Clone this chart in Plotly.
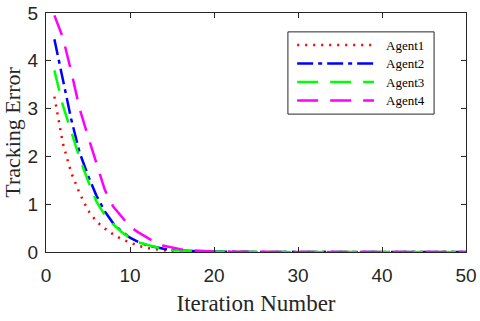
import plotly.graph_objects as go

# iteration index
iters = list(range(1, 51))

# tracking error of each agent
agent1 = [3.25, 2.28, 1.66, 1.23, 0.87, 0.64, 0.49, 0.37, 0.27, 0.2,
          0.13, 0.085, 0.055, 0.035, 0.024, 0.016, 0.011, 0.008, 0.005, 0.003,
          0.002, 0.001, 0.001, 0.0, 0.0, 0.0, 0.0, 0.0, 0.0, 0.0,
          0.0, 0.0, 0.0, 0.0, 0.0, 0.0, 0.0, 0.0, 0.0, 0.0,
          0.0, 0.0, 0.0, 0.0, 0.0, 0.0, 0.0, 0.0, 0.0, 0.0]
agent2 = [4.45, 3.6, 2.78, 2.08, 1.6, 1.18, 0.85, 0.6, 0.43, 0.3,
          0.21, 0.14, 0.1, 0.07, 0.045, 0.03, 0.02, 0.013, 0.009, 0.006,
          0.004, 0.002, 0.001, 0.0, 0.0, 0.0, 0.0, 0.0, 0.0, 0.0,
          0.0, 0.0, 0.0, 0.0, 0.0, 0.0, 0.0, 0.0, 0.0, 0.0,
          0.0, 0.0, 0.0, 0.0, 0.0, 0.0, 0.0, 0.0, 0.0, 0.0]
agent3 = [3.8, 3.07, 2.52, 1.96, 1.49, 1.06, 0.77, 0.58, 0.42, 0.29,
          0.2, 0.15, 0.11, 0.06, 0.035, 0.025, 0.017, 0.011, 0.007, 0.005,
          0.003, 0.002, 0.001, 0.0, 0.0, 0.0, 0.0, 0.0, 0.0, 0.0,
          0.0, 0.0, 0.0, 0.0, 0.0, 0.0, 0.0, 0.0, 0.0, 0.0,
          0.0, 0.0, 0.0, 0.0, 0.0, 0.0, 0.0, 0.0, 0.0, 0.0]
agent4 = [4.95, 4.49, 3.78, 3.0, 2.42, 1.88, 1.3, 0.95, 0.74, 0.53,
          0.41, 0.3, 0.2, 0.13, 0.09, 0.06, 0.035, 0.022, 0.014, 0.009,
          0.006, 0.004, 0.002, 0.001, 0.0, 0.0, 0.0, 0.0, 0.0, 0.0,
          0.0, 0.0, 0.0, 0.0, 0.0, 0.0, 0.0, 0.0, 0.0, 0.0,
          0.0, 0.0, 0.0, 0.0, 0.0, 0.0, 0.0, 0.0, 0.0, 0.0]

names = ["Agent1", "Agent2", "Agent3", "Agent4"]
colors = ["#FF0000", "#0000FF", "#00FF00", "#FF00FF"]
dashes = ["2px,6px", "16px,5px,4px,5px", "21px,12px", "21px,12px"]

axis_col = "#262626"
serif = "Liberation Serif, Times New Roman"

fig = go.Figure()
for ys, nm, col, dsh in zip([agent1, agent2, agent3, agent4], names, colors, dashes):
    fig.add_trace(go.Scatter(
        x=iters, y=ys, name=nm, mode="lines",
        line=dict(color=col, width=2.5, dash=dsh),
        showlegend=False,
    ))

# legend drawn by hand (matlab style: long line samples in a boxed frame)
box_x0, box_x1 = 0.576, 0.924
box_y0, box_y1 = 0.577, 0.921
fig.add_shape(type="rect", xref="paper", yref="paper",
              x0=box_x0, x1=box_x1, y0=box_y0, y1=box_y1,
              line=dict(color=axis_col, width=1), fillcolor="white", layer="above")
row_y = [0.866, 0.789, 0.711, 0.634]
for ry, nm, col, dsh in zip(row_y, names, colors, dashes):
    fig.add_shape(type="line", xref="paper", yref="paper",
                  x0=0.598, x1=0.781, y0=ry, y1=ry,
                  line=dict(color=col, width=2.5, dash=dsh), layer="above")
    fig.add_annotation(xref="paper", yref="paper", x=0.805, y=ry,
                       xanchor="left", yanchor="middle", showarrow=False,
                       text=nm, font=dict(family=serif, size=13, color="black"))

fig.update_xaxes(
    range=[0, 50], tickvals=[0, 10, 20, 30, 40, 50],
    ticks="inside", ticklen=5, tickcolor=axis_col, ticklabelstandoff=6,
    showline=True, linecolor=axis_col, linewidth=1, mirror="ticks",
    showgrid=False, zeroline=False, automargin=False,
    tickfont=dict(family="Liberation Sans, Arial", size=19, color=axis_col),
    title=dict(text="Iteration Number", standoff=10,
               font=dict(family=serif, size=23, color=axis_col)),
)
fig.update_yaxes(
    range=[0, 5], tickvals=[0, 1, 2, 3, 4, 5],
    ticks="inside", ticklen=5, tickcolor=axis_col, ticklabelstandoff=3,
    showline=True, linecolor=axis_col, linewidth=1, mirror="ticks",
    showgrid=False, zeroline=False, automargin=False,
    tickfont=dict(family="Liberation Sans, Arial", size=19, color=axis_col),
    title=dict(text="Tracking Error", standoff=0,
               font=dict(family=serif, size=22, color=axis_col)),
)

fig.update_layout(
    width=480, height=321,
    margin=dict(l=46, r=14, t=13, b=69),
    paper_bgcolor="white", plot_bgcolor="white",
    showlegend=False,
)

# drop the page's default body margin so the figure sits at the top-left corner
fig.write_html("out.html", config={"displayModeBar": False},
               post_script="document.body.style.margin='0';")
